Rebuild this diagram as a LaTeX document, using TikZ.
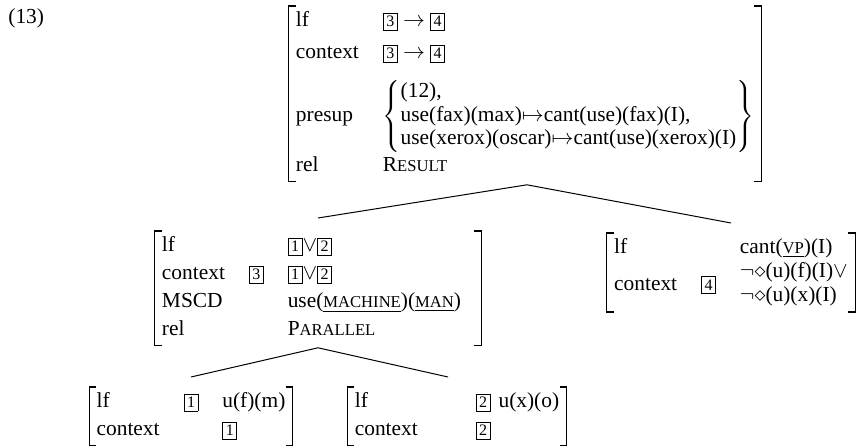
\documentclass[tikz,border=0pt]{standalone}
\usepackage{fontspec}
\setmainfont{Liberation Serif}
\newcommand{\tagbox}[1]{{\setlength{\fboxsep}{1.3pt}\setlength{\fboxrule}{0.4pt}\fbox{\fontsize{8}{9}\selectfont #1}}}
\newcommand{\scap}[1]{{\fontsize{8.3}{10}\selectfont #1}}
\newcommand{\avmbrackets}[1]{%
  \draw[bracket] ([xshift=3.5pt]#1.north west) -- (#1.north west) -- (#1.south west) -- ([xshift=3.5pt]#1.south west);
  \draw[bracket] ([xshift=-3.5pt]#1.north east) -- (#1.north east) -- (#1.south east) -- ([xshift=-3.5pt]#1.south east);}
\tikzset{avm/.style={anchor=north,inner xsep=3.5pt,inner ysep=0.5pt,font=\fontsize{10.7}{14}\selectfont},
    bracket/.style={line width=0.6pt},
    branch/.style={line width=0.5pt}}

\begin{document}
\begin{tikzpicture}[x=0.5pt,y=-0.5pt]
	\useasboundingbox (0,0) rectangle (856,448);
	\node[anchor=west,inner sep=0pt,font=\fontsize{10.7}{14}\selectfont] (ex) at (8,18) {(13)};

	% mother node
	\node[avm] (R) at (525,6) {\begin{tabular}{@{}ll@{}}
		lf & \tagbox{3} $\rightarrow$ \tagbox{4}\\[2pt]
		context & \tagbox{3} $\rightarrow$ \tagbox{4}\\[6.5pt]
		presup & $\left\{\renewcommand{\arraystretch}{0.85}\begin{tabular}{@{}l@{}}(12),\\
			use(fax)(max)$\mapsto$cant(use)(fax)(I),\\
			use(xerox)(oscar)$\mapsto$cant(use)(xerox)(I)\end{tabular}\right\}$\hspace{-4pt}\\[5pt]
		rel & R\scap{ESULT}
	\end{tabular}};

	% daughters
	\node[avm] (P) at (318,231) {\begin{tabular}{@{}lll@{\hspace{6.5pt}}}
		lf & & \tagbox{1}$\vee$\tagbox{2}\\
		context & \tagbox{3} & \tagbox{1}$\vee$\tagbox{2}\\
		MSCD & & use(\underline{\scap{MACHINE}})(\underline{\scap{MAN}})\\
		rel & & P\scap{ARALLEL}
	\end{tabular}};
	\node[avm,inner ysep=1.5pt] (C) at (731,233) {\renewcommand{\arraystretch}{0.86}\begin{tabular}{@{}lll@{}}
		lf & & cant(\underline{\scap{VP}})(I)\\
		context & \tagbox{4} & \begin{tabular}[c]{@{}l@{}}$\neg\diamond$(u)(f)(I)$\vee$\\
			$\neg\diamond$(u)(x)(I)\end{tabular}
	\end{tabular}};

	% granddaughters
	\node[avm] (F) at (191,387) {\begin{tabular}{@{}lll@{}}
		lf & \tagbox{1} & u(f)(m)\\
		context & & \tagbox{1}
	\end{tabular}};
	\node[avm] (X) at (457,387) {\begin{tabular}{@{}l@{\hspace{29pt}}l@{\hspace{4pt}}l@{}}
		lf & \tagbox{2} & u(x)(o)\\
		context & \tagbox{2} &
	\end{tabular}};

	\avmbrackets{R}
	\avmbrackets{P}
	\avmbrackets{C}
	\avmbrackets{F}
	\avmbrackets{X}

	\draw[branch] ([xshift=1pt,yshift=-1.5pt]R.south) -- ([yshift=6.5pt]P.north);
	\draw[branch] ([xshift=1pt,yshift=-1.5pt]R.south) -- ([yshift=5pt]C.north);
	\draw[branch] ([yshift=-1pt]P.south) -- ([yshift=5pt]F.north);
	\draw[branch] ([yshift=-1pt]P.south) -- ([xshift=-4.5pt,yshift=5pt]X.north);
\end{tikzpicture}
\end{document}
